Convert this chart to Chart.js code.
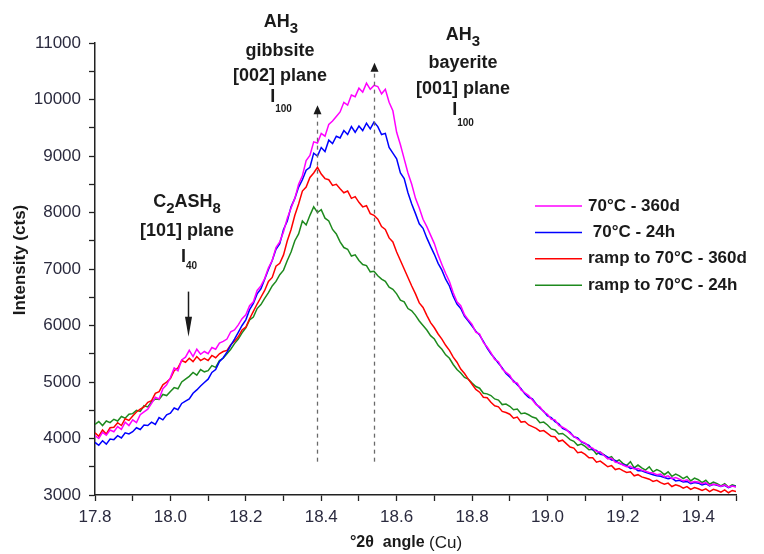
<!DOCTYPE html>
<html>
<head>
<meta charset="utf-8">
<script src="https://cdn.jsdelivr.net/npm/chart.js@4.4.0/dist/chart.umd.min.js"></script>
<style>
    html, body { margin: 0; padding: 0; background: #fff; }
    #wrap { width: 764px; height: 554px; }
</style>
</head>
<body>
<div id="wrap"><canvas id="myChart" width="764" height="554"></canvas></div>
<script>
// scan grid (°2θ) : start + step, one value per point of each series
const angleStart = 17.8;
const angleStep = 0.01;

// intensity (cts), every 0.01°
const magenta360d = [
    4050, 4000, 4110, 4060, 4150, 4120, 4210, 4160, 4290, 4230,
    4330, 4280, 4420, 4470, 4520, 4620, 4730, 4700, 4880, 4950,
    5080, 5250, 5200, 5390, 5440, 5560, 5450, 5580, 5490, 5540,
    5500, 5610, 5580, 5690, 5720, 5760, 5890, 5920, 6010, 6120,
    6190, 6350, 6420, 6620, 6700, 6830, 7020, 7150, 7380, 7480,
    7660, 7900, 8080, 8250, 8500, 8650, 8920, 9010, 9250, 9230,
    9400, 9350, 9560, 9620, 9700, 9780, 9950, 9900, 10080, 10050,
    10200, 10130, 10290, 10180, 10250, 10230, 10100, 10180, 9950, 9800,
    9420, 9200, 8950, 8700, 8500, 8250, 8080, 7880, 7750, 7600,
    7450, 7250, 7080, 6920, 6780, 6580, 6420, 6350, 6190, 6100,
    6020, 5880, 5850, 5700, 5620, 5520, 5400, 5360, 5230, 5170,
    5120, 5000, 4980, 4860, 4810, 4760, 4680, 4600, 4560, 4470,
    4430, 4340, 4330, 4230, 4200, 4160, 4090, 4040, 3990, 3950,
    3920, 3850, 3830, 3770, 3760, 3700, 3640, 3650, 3580, 3570,
    3530, 3500, 3510, 3460, 3470, 3440, 3420, 3400, 3390, 3360,
    3370, 3320, 3340, 3290, 3310, 3280, 3250, 3270, 3220, 3240,
    3230, 3200, 3220, 3170, 3190, 3180, 3150, 3180, 3140, 3160,
    3140
];
const blue24h = [
    3930, 3880, 3960, 3900, 3990, 3980, 4050, 4010, 4100, 4080,
    4120, 4190, 4160, 4240, 4230, 4290, 4250, 4370, 4330, 4420,
    4450, 4540, 4510, 4620, 4660, 4700, 4800, 4860, 4930, 4990,
    5050, 5170, 5220, 5360, 5430, 5530, 5650, 5760, 5880, 6000,
    6100, 6280, 6390, 6560, 6650, 6820, 6990, 7150, 7350, 7450,
    7700, 7850, 8100, 8250, 8450, 8580, 8750, 8800, 9050, 9000,
    9150, 9080, 9280, 9220, 9350, 9320, 9450, 9380, 9520, 9420,
    9530, 9450, 9580, 9480, 9600, 9520, 9380, 9400, 9150, 9050,
    8950, 8700, 8600, 8350, 8150, 7980, 7800, 7720, 7550, 7400,
    7260, 7100, 6980, 6820, 6700, 6520, 6380, 6300, 6160, 6080,
    5990, 5900, 5830, 5720, 5600, 5500, 5420, 5330, 5250, 5150,
    5090, 5020, 4950, 4880, 4790, 4730, 4700, 4610, 4540, 4480,
    4400, 4370, 4300, 4260, 4180, 4150, 4110, 4030, 4010, 3940,
    3910, 3880, 3800, 3790, 3720, 3710, 3670, 3620, 3610, 3560,
    3540, 3520, 3470, 3480, 3430, 3430, 3400, 3380, 3360, 3340,
    3330, 3310, 3290, 3300, 3250, 3260, 3230, 3240, 3200, 3220,
    3210, 3180, 3200, 3160, 3190, 3170, 3150, 3170, 3130, 3160,
    3150
];
const red360d = [
    4100, 4040, 4150, 4080, 4190, 4200, 4280, 4230, 4350, 4320,
    4400, 4470, 4520, 4560, 4640, 4670, 4800, 4830, 4950, 5000,
    5060, 5200, 5250, 5380, 5350, 5420, 5360, 5450, 5380, 5420,
    5380, 5470, 5430, 5500, 5540, 5560, 5660, 5720, 5800, 5920,
    5970, 6120, 6250, 6380, 6500, 6620, 6780, 6850, 7050, 7100,
    7250, 7500, 7700, 7950, 8150, 8380, 8450, 8620, 8700, 8800,
    8680, 8600, 8580, 8480, 8500, 8420, 8350, 8380, 8250, 8280,
    8180, 8100, 8120, 7980, 7950, 7880, 7750, 7700, 7550, 7480,
    7300, 7150, 7000, 6850, 6700, 6560, 6400, 6320, 6180, 6050,
    5960, 5850, 5760, 5650, 5560, 5440, 5350, 5230, 5150, 5050,
    4960, 4870, 4820, 4730, 4720, 4640, 4580, 4560, 4480, 4460,
    4430, 4360, 4380, 4290, 4300, 4240, 4210, 4180, 4130, 4140,
    4090, 4040, 4030, 3950, 3970, 3910, 3850, 3830, 3750, 3760,
    3720, 3660, 3660, 3580, 3600, 3550, 3500, 3520, 3450, 3470,
    3430, 3400, 3410, 3340, 3360, 3320, 3300, 3280, 3240, 3260,
    3220, 3190, 3210, 3150, 3180, 3160, 3120, 3150, 3100, 3130,
    3110, 3080, 3110, 3060, 3100, 3080, 3050, 3090, 3040, 3080,
    3060
];
const green24h = [
    4250, 4300, 4230, 4310, 4280, 4340, 4310, 4390, 4360, 4430,
    4440, 4500, 4480, 4580, 4560, 4650, 4700, 4690, 4780, 4760,
    4830, 4900, 4880, 5000, 5050, 5100, 5170, 5120, 5220, 5180,
    5200, 5290, 5260, 5380, 5420, 5500, 5580, 5680, 5760, 5870,
    5960, 6100, 6150, 6300, 6370, 6480, 6580, 6700, 6780, 6900,
    6980, 7150, 7300, 7500, 7620, 7850, 7780, 7950, 8100, 8000,
    8050, 7900, 7850, 7700, 7620, 7480, 7380, 7350, 7230, 7250,
    7150, 7080, 7060, 6950, 6960, 6880, 6820, 6780, 6680, 6640,
    6560, 6450, 6420, 6300, 6260, 6180, 6080, 6000, 5920, 5820,
    5760, 5650, 5580, 5480, 5420, 5310, 5220, 5160, 5080, 5050,
    4980, 4920, 4890, 4800, 4790, 4760, 4700, 4680, 4600, 4610,
    4570, 4510, 4520, 4440, 4450, 4420, 4380, 4360, 4280, 4290,
    4240, 4170, 4150, 4080, 4090, 4040, 3980, 3950, 3880, 3900,
    3860, 3800, 3810, 3720, 3760, 3710, 3650, 3680, 3590, 3620,
    3560, 3520, 3590, 3480, 3530, 3480, 3440, 3500, 3410, 3450,
    3420, 3360, 3410, 3330, 3370, 3340, 3290, 3330, 3250, 3300,
    3270, 3220, 3260, 3190, 3230, 3200, 3160, 3200, 3140, 3180,
    3160
];

const seriesLabels = ['70°C - 360d', ' 70°C - 24h', 'ramp to 70°C - 360d', 'ramp to 70°C - 24h'];
const seriesColors = ['#ff00ff', '#0000ff', '#ff0000', '#1e8a1e'];

// labelled ticks
const xTickLabels = [17.8, 18.0, 18.2, 18.4, 18.6, 18.8, 19.0, 19.2, 19.4];
const yTickLabels = [3000, 4000, 5000, 6000, 7000, 8000, 9000, 10000, 11000];

// peak markers (°2θ, arrow tip in cts) and the C2ASH8 arrow
const peakAngles = [18.388, 18.541];
const peakTips = [9900, 10650];
const peakBase = 3590;
const c2ashAngle = 18.046;
const c2ashArrow = [6600, 5800];

const FONT = '"Liberation Sans", Arial, sans-serif';
const INK = '#1a1a1a';

const angles = magenta360d.map((_, i) => +(angleStart + i * angleStep).toFixed(2));
const toPoints = arr => arr.map((v, i) => ({ x: angles[i], y: v }));

// texte avec indices (AH3, C2ASH8, I100)
function drawRich(ctx, parts, cx, base) {
    let w = 0;
    parts.forEach(p => {
        ctx.font = 'bold ' + p[1] + 'px ' + FONT;
        w += ctx.measureText(p[0]).width;
    });
    let xx = cx - w / 2;
    parts.forEach(p => {
        ctx.font = 'bold ' + p[1] + 'px ' + FONT;
        ctx.fillText(p[0], xx, base + p[2]);
        xx += ctx.measureText(p[0]).width;
    });
}

function arrowHead(ctx, px, tipY, halfW, len, dir) {
    ctx.beginPath();
    ctx.moveTo(px, tipY);
    ctx.lineTo(px - halfW, tipY + dir * len);
    ctx.lineTo(px + halfW, tipY + dir * len);
    ctx.closePath();
    ctx.fill();
}

const notesPlugin = {
    id: 'notes',
    afterDatasetsDraw(chart) {
        const { ctx, scales: { x, y } } = chart;
        ctx.save();

        // dashed lines to the AH3 peaks
        peakAngles.forEach((a, i) => {
            const px = Math.round(x.getPixelForValue(a)) + 0.5;
            const tip = y.getPixelForValue(peakTips[i]);
            ctx.strokeStyle = '#6a6a6a';
            ctx.lineWidth = 1.3;
            ctx.setLineDash([4, 4]);
            ctx.beginPath();
            ctx.moveTo(px, y.getPixelForValue(peakBase));
            ctx.lineTo(px, tip + 8);
            ctx.stroke();
            ctx.setLineDash([]);
            ctx.fillStyle = INK;
            arrowHead(ctx, px, tip, 4, 9, 1);
        });

        // C2ASH8 arrow
        const ax = Math.round(x.getPixelForValue(c2ashAngle)) + 0.5;
        const aTop = y.getPixelForValue(c2ashArrow[0]);
        const aTip = y.getPixelForValue(c2ashArrow[1]);
        ctx.strokeStyle = INK;
        ctx.lineWidth = 1.5;
        ctx.beginPath();
        ctx.moveTo(ax, aTop);
        ctx.lineTo(ax, aTip - 14);
        ctx.stroke();
        ctx.fillStyle = INK;
        arrowHead(ctx, ax, aTip, 3.5, 20, -1);

        // labels
        ctx.fillStyle = INK;
        ctx.textBaseline = 'alphabetic';
        drawRich(ctx, [['AH', 18, 0], ['3', 15, 6]], 281, 27);
        drawRich(ctx, [['gibbsite', 18, 0]], 280, 56);
        drawRich(ctx, [['[002] plane', 18, 0]], 280, 81);
        drawRich(ctx, [['I', 18, 0], ['100', 10, 10]], 281, 102);

        drawRich(ctx, [['AH', 18, 0], ['3', 15, 6]], 463, 39.5);
        drawRich(ctx, [['bayerite', 18, 0]], 463, 68);
        drawRich(ctx, [['[001] plane', 18, 0]], 463, 94);
        drawRich(ctx, [['I', 18, 0], ['100', 10, 11]], 463, 115);

        drawRich(ctx, [['C', 18, 0], ['2', 15, 6], ['ASH', 18, 0], ['8', 15, 6]], 187, 207);
        drawRich(ctx, [['[101] plane', 18, 0]], 187, 236);
        drawRich(ctx, [['I', 18, 0], ['40', 10, 7]], 189, 262);

        // legend
        ctx.textBaseline = 'middle';
        ctx.font = 'bold 17px ' + FONT;
        chart.data.datasets.forEach((ds, i) => {
            const ry = 206 + i * 26.4;
            ctx.strokeStyle = ds.borderColor;
            ctx.lineWidth = 1.5;
            ctx.beginPath();
            ctx.moveTo(535, ry);
            ctx.lineTo(582, ry);
            ctx.stroke();
            ctx.fillStyle = INK;
            ctx.fillText(ds.label, 588, ry);
        });

        // axis titles
        ctx.textAlign = 'center';
        ctx.save();
        ctx.translate(20, 260);
        ctx.rotate(-Math.PI / 2);
        ctx.font = 'bold 17px ' + FONT;
        ctx.fillText('Intensity (cts)', 0, 0);
        ctx.restore();

        ctx.textAlign = 'left';
        const t1 = '°2θ  angle ';
        ctx.font = 'bold 16px ' + FONT;
        const w1 = ctx.measureText(t1).width;
        ctx.font = '17px ' + FONT;
        const w2 = ctx.measureText('(Cu)').width;
        const sx = 406 - (w1 + w2) / 2;
        ctx.font = 'bold 16px ' + FONT;
        ctx.fillText(t1, sx, 543);
        ctx.font = '17px ' + FONT;
        ctx.fillText('(Cu)', sx + w1, 543);

        ctx.restore();
    }
};

const ctx = document.getElementById('myChart').getContext('2d');
const myChart = new Chart(ctx, {
    type: 'line',
    data: {
        datasets: [magenta360d, blue24h, red360d, green24h].map((arr, i) => ({
            label: seriesLabels[i],
            data: toPoints(arr),
            borderColor: seriesColors[i],
            borderWidth: 1.5,
            pointRadius: 0,
            tension: 0,
            fill: false
        }))
    },
    options: {
        responsive: false,
        animation: false,
        devicePixelRatio: 1,
        layout: { padding: { left: 0, right: 28, top: 43, bottom: 0 } },
        plugins: {
            legend: { display: false },
            tooltip: { enabled: false }
        },
        scales: {
            x: {
                type: 'linear',
                min: 17.8,
                max: 19.5,
                afterFit: s => { s.height = 59; },
                ticks: {
                    stepSize: 0.1,
                    autoSkip: false,
                    maxRotation: 0,
                    padding: 6,
                    color: '#2b2b3f',
                    font: { family: FONT, size: 17 },
                    callback: v => {
                        const r = Math.round(v * 10) / 10;
                        return xTickLabels.some(t => Math.abs(t - r) < 1e-6) ? r.toFixed(1) : '';
                    }
                },
                grid: { drawOnChartArea: false, tickLength: 6, tickColor: '#222', tickWidth: 1.3 },
                border: { display: true, color: '#222', width: 1.5 }
            },
            y: {
                min: 3000,
                max: 11000,
                afterFit: s => { s.width = 95; },
                ticks: {
                    stepSize: 500,
                    autoSkip: false,
                    padding: 8,
                    color: '#2b2b3f',
                    font: { family: FONT, size: 17 },
                    callback: v => yTickLabels.includes(v) ? String(v) : ''
                },
                grid: { drawOnChartArea: false, tickLength: 6, tickColor: '#222', tickWidth: 1.3 },
                border: { display: true, color: '#222', width: 1.5 }
            }
        }
    },
    plugins: [notesPlugin]
});
</script>
</body>
</html>
